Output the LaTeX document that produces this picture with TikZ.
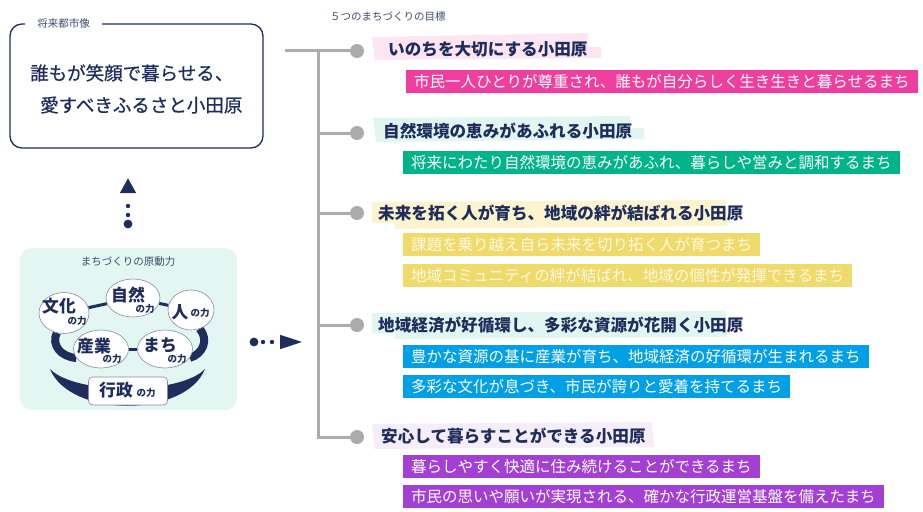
\documentclass[tikz,border=0pt]{standalone}
\usepackage{fontspec}
\setmainfont{Noto Sans CJK JP}
\newfontfamily\mottofont[FakeBold=0.7]{Noto Sans CJK JP}
\usetikzlibrary{arrows.meta,positioning,shapes.geometric,backgrounds}

\definecolor{navy}{HTML}{1F2D5C}
\definecolor{capgray}{HTML}{3E4B6E}
\definecolor{treegray}{HTML}{ABABAB}
\definecolor{mint}{HTML}{E4F6F2}
\definecolor{pinkc}{HTML}{EE3F9F}
\definecolor{greenc}{HTML}{00B48A}
\definecolor{yellowc}{HTML}{EFDB6C}
\definecolor{yellowtext}{HTML}{FFF8E2}
\definecolor{bluec}{HTML}{00A0E6}
\definecolor{purplec}{HTML}{A33FD2}
\definecolor{pinkband}{HTML}{FDE6F1}
\definecolor{tealband}{HTML}{E2F6F1}
\definecolor{yellowband}{HTML}{FCF4CE}
\definecolor{lavband}{HTML}{F5EDF8}

\begin{document}
\begin{tikzpicture}[x=1pt,y=-1pt,
  caption/.style={inner sep=0pt,text=capgray,text height=9.2pt,text depth=1.3pt,font=\fontsize{10.5}{12}\selectfont},
  motto/.style={anchor=west,inner sep=0pt,text=navy,text height=16.3pt,text depth=2.2pt,font=\mottofont\fontsize{18.5}{20}\selectfont},
  goal/.style={anchor=west,inner sep=0pt,text=navy,text height=14.6pt,text depth=2pt,font=\fontsize{16.6}{18}\selectfont\bfseries},
  sub/.style={anchor=north west,inner xsep=8pt,inner ysep=0pt,minimum height=22.5pt,text=white,text height=13.6pt,text depth=1.9pt,font=\fontsize{15.5}{16}\selectfont},
  force/.style={ellipse,draw=navy!55,fill=white,line width=0.6pt,inner sep=0pt},
  big/.style={inner sep=0pt,text=navy,font=\fontsize{16.8}{17}\selectfont\bfseries},
  small/.style={inner sep=0pt,text=navy,font=\fontsize{9.5}{10}\selectfont\bfseries},
  gdot/.style={circle,fill=treegray,minimum size=14pt,inner sep=0pt},
  tree/.style={draw=treegray,line width=3pt},
  dotlink/.style={navy,line width=4.4pt,line cap=round,dash pattern=on 0pt off 9pt on 0pt off 9pt on 0pt off 60pt},
  band/.style={navy,line width=8pt},
  bar/.style={navy,line width=3pt}]
  \useasboundingbox (0,0) rectangle (923,511);

  % future vision
  \node[draw=navy,line width=1.3pt,rounded corners=12pt,minimum width=253pt,minimum height=124pt] (vision) at (136.5,86) {};
  \node[caption,fill=white,inner xsep=12pt,inner ysep=2pt] (visionT) at (63.5,24) {将来都市像};
  \node[motto] (motto1) at (30,73) {誰もが笑顔で暮らせる、};
  \node[motto] (motto2) at (40,105) {愛すべきふるさと小田原};

  % driving forces
  \node[force,minimum width=50pt,minimum height=41pt,
        label={[big,xshift=-5pt,yshift=7pt]center:文化},label={[small,xshift=13pt,yshift=-8pt]center:の力}] (bunka) at (64,313) {};
  \node[force,minimum width=54pt,minimum height=38pt,
        label={[big,xshift=-5pt,yshift=3pt]center:自然},label={[small,xshift=12pt,yshift=-11pt]center:の力}] (shizen) at (133,298) {};
  \node[force,minimum width=46pt,minimum height=40pt,
        label={[big,xshift=-11pt,yshift=-2pt]center:人},label={[small,xshift=9pt,yshift=-3pt]center:の力}] (jin) at (191,310) {};
  \node[force,minimum width=55pt,minimum height=38pt,
        label={[big,xshift=-7pt,yshift=3pt]center:産業},label={[small,xshift=11pt,yshift=-10pt]center:の力}] (sangyo) at (101,349) {};
  \node[force,minimum width=55pt,minimum height=38pt,
        label={[big,xshift=-5pt,yshift=4pt]center:まち},label={[small,xshift=12pt,yshift=-10pt]center:の力}] (machi) at (165,349) {};
  \node[draw=navy!55,fill=white,line width=0.6pt,rounded corners=4pt,minimum width=79pt,minimum height=28pt,
        label={[big,xshift=-12pt,yshift=1pt]center:行政},label={[small,xshift=18pt,yshift=-2pt]center:の力}] (gyosei) at (128,391) {};

  \begin{scope}[on background layer]
    \node[fill=mint,rounded corners=12pt,minimum width=217pt,minimum height=162pt] (genryoku) at (128.5,329) {};
    \draw[bar] (bunka) -- (shizen);
    \draw[bar] (shizen) -- (jin);
    \draw[bar] (sangyo) -- (machi);
    \draw[band] (bunka.250) .. controls (51,345) and (61,357) .. (sangyo.200);
    \draw[band] (jin.295) .. controls (209,340) and (203,354) .. (machi.340);
    \fill[navy] (50,369) .. controls (75,395) and (180,395) .. (205,369)
                .. controls (185,418) and (70,418) .. (50,369) -- cycle;
  \end{scope}
  \node[caption] (genryokuT) at (128,262) {まちづくりの原動力};

  % dotted arrows
  \coordinate (upS) at (128,224);
  \coordinate (upE) at (128,178);
  \coordinate (rtS) at (254,342);
  \coordinate (rtE) at (303,342);
  \fill[navy] (upS) circle (4.4pt);
  \fill[navy] (rtS) circle (4.4pt);
  \draw[dotlink,-{Triangle[length=15pt,width=15pt]}] (upS) -- (upE);
  \draw[dotlink,-{Triangle[length=23pt,width=13pt]}] (rtS) -- (rtE);

  % five goals
  \node[caption,anchor=west] (goalsT) at (330,17) {５つのまちづくりの目標};
  \node[gdot] (g1) at (357,51) {};
  \node[gdot] (g2) at (357,133) {};
  \node[gdot] (g3) at (357,213) {};
  \node[gdot] (g4) at (357,325) {};
  \node[gdot] (g5) at (357,437) {};
  \coordinate (tstart) at (285,51);
  \coordinate (trunk) at (318,51);
  \draw[tree] (tstart) -- (g1);
  \draw[tree] (trunk) |- (g5);
  \foreach \g in {g2,g3,g4} \draw[tree] (trunk |- \g) -- (\g);

  \fill[pinkband] (372,37) -- (588,33) -- (588,47) -- (601,47) -- (601,58) -- (375,60) -- cycle;
  \fill[tealband] (373,118) -- (630,116) -- (630,128) -- (644,128) -- (644,139) -- (376,142) -- cycle;
  \fill[yellowband] (372,202) -- (726,200) -- (727,226) -- (395,229) -- (395,223) -- (372,223) -- cycle;
  \fill[tealband] (372,313) -- (726,311) -- (727,337) -- (395,339) -- (395,333) -- (372,333) -- cycle;
  \fill[lavband] (372,424) -- (652,422) -- (654,447) -- (375,449) -- cycle;

  \node[goal] (goal1) at (388,49) {いのちを大切にする小田原};
  \node[sub,fill=pinkc] (p1) at (406,70) {市民一人ひとりが尊重され、誰もが自分らしく生き生きと暮らせるまち};

  \node[goal] (goal2) at (383,131) {自然環境の恵みがあふれる小田原};
  \node[sub,fill=greenc] (n1) at (403,151) {将来にわたり自然環境の恵みがあふれ、暮らしや営みと調和するまち};

  \node[goal] (goal3) at (378,213) {未来を拓く人が育ち、地域の絆が結ばれる小田原};
  \node[sub,fill=yellowc,text=yellowtext] (y1) at (403,233) {課題を乗り越え自ら未来を切り拓く人が育つまち};
  \node[sub,fill=yellowc,text=yellowtext,below=8pt of y1.south west,anchor=north west] (y2) {地域コミュニティの絆が結ばれ、地域の個性が発揮できるまち};

  \node[goal] (goal4) at (378,325) {地域経済が好循環し、多彩な資源が花開く小田原};
  \node[sub,fill=bluec] (b1) at (403,345) {豊かな資源の基に産業が育ち、地域経済の好循環が生まれるまち};
  \node[sub,fill=bluec,below=7pt of b1.south west,anchor=north west] (b2) {多彩な文化が息づき、市民が誇りと愛着を持てるまち};

  \node[goal] (goal5) at (381,436) {安心して暮らすことができる小田原};
  \node[sub,fill=purplec] (v1) at (403,455) {暮らしやすく快適に住み続けることができるまち};
  \node[sub,fill=purplec,below=7pt of v1.south west,anchor=north west] (v2) {市民の思いや願いが実現される、確かな行政運営基盤を備えたまち};
\end{tikzpicture}
\end{document}
